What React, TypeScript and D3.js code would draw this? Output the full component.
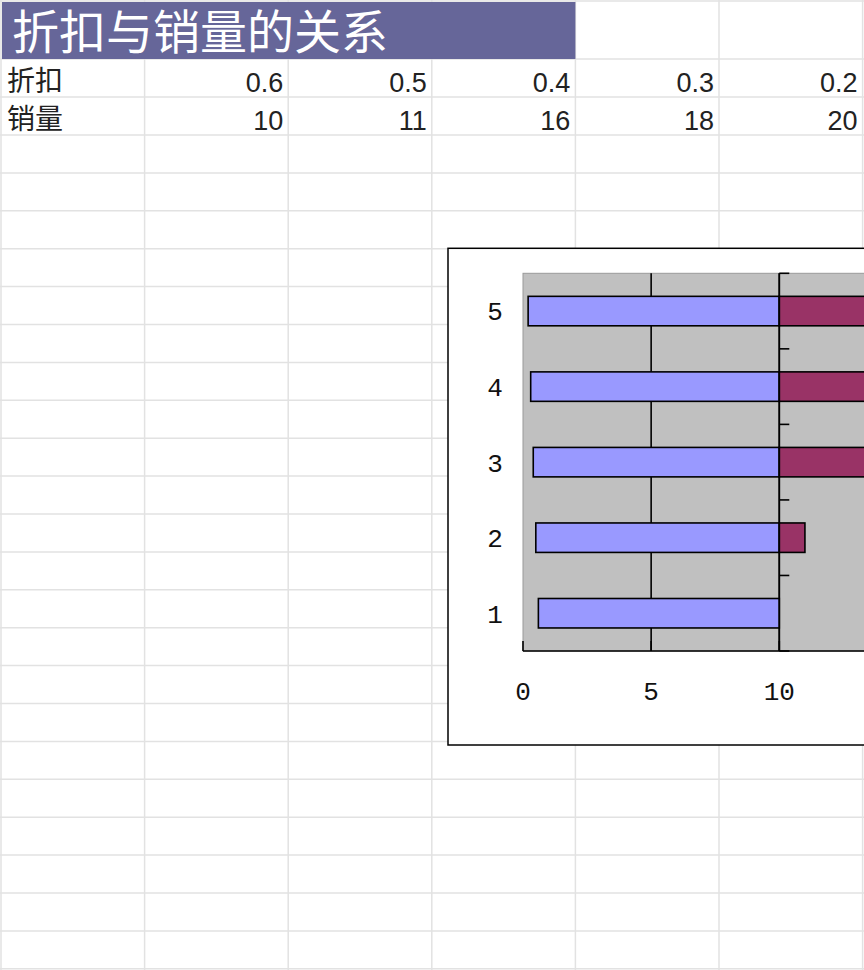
import React from "react";
import * as d3 from "d3";

// sheet data
const title = "折扣与销量的关系";
const rowLabels = ["折扣", "销量"];
const discount = [0.6, 0.5, 0.4, 0.3, 0.2];
const sales = [10, 11, 16, 18, 20];
const categories = ["1", "2", "3", "4", "5"];
const valueTicks = [0, 5, 10, 15, 20, 25];
const baseValue = 10;

const W = 864;
const H = 970;

const App: React.FC = () => {
  // spreadsheet grid
  const colX = d3.scaleLinear().domain([0, 6]).range([1, 862.6]);
  const rowY = (i: number) => (i === 0 ? 1 : i === 1 ? 59 : i === 2 ? 97 : 135 + (i - 3) * 37.9);
  const rowIdx = d3.range(0, 26).filter((i) => rowY(i) <= H);

  // chart scales
  const x = d3.scaleLinear().domain([0, 25]).range([523, 523 + 25 * 25.63]);
  const y = d3
    .scaleBand<string>()
    .domain([...categories].reverse())
    .range([273.3, 651])
    .paddingInner(0.61)
    .paddingOuter(0.305);
  const step = y.step();
  const plotTop = 273.3;
  const plotBottom = 651;
  const plotRight = x(25);

  const monoFont = "'Liberation Mono', 'DejaVu Sans Mono', monospace";
  const cjkFont = "'Noto Sans CJK SC', sans-serif";
  const numFont = "'Liberation Sans', Arial, sans-serif";

  // only labels that land inside the visible page
  const visibleTicks = valueTicks.filter((v) => x(v) + 20 < W);

  return (
    <svg
      width={W}
      height={H}
      style={{ position: "absolute", left: 0, top: 0, background: "#fff" }}
    >
      {/* sheet gridlines */}
      <g stroke="#e2e2e2" strokeWidth={1.5}>
        {d3.range(0, 7).map((i) => (
          <line key={"c" + i} x1={colX(i)} x2={colX(i)} y1={0} y2={H} />
        ))}
        {rowIdx.map((i) => (
          <line key={"r" + i} x1={0} x2={W} y1={rowY(i)} y2={rowY(i)} />
        ))}
      </g>

      {/* title cell */}
      <rect x={2} y={2} width={colX(4) - 2} height={57} fill="#666699" />
      <text x={12} y={49} fontFamily={cjkFont} fontSize={47} fill="#fff">
        {title}
      </text>

      {/* table rows */}
      {[discount, sales].map((vals, r) => (
        <g key={"row" + r}>
          <text
            x={7}
            y={rowY(r + 2) - 6.5}
            fontFamily={cjkFont}
            fontSize={28}
            fill="#222"
          >
            {rowLabels[r]}
          </text>
          {vals.map((v, i) => (
            <text
              key={i}
              x={colX(i + 2) - 5}
              y={rowY(r + 2) - 5.5}
              textAnchor="end"
              fontFamily={numFont}
              fontSize={27}
              fill="#222"
            >
              {v}
            </text>
          ))}
        </g>
      ))}

      {/* chart area */}
      <rect
        x={448}
        y={248.3}
        width={W + 100 - 448}
        height={745 - 248.3}
        fill="#fff"
        stroke="#000"
        strokeWidth={1.5}
      />
      <rect
        x={x(0)}
        y={plotTop}
        width={plotRight - x(0)}
        height={plotBottom - plotTop}
        fill="#c0c0c0"
        stroke="#9a9a9a"
        strokeWidth={1}
      />

      {/* vertical gridlines */}
      <g stroke="#000" strokeWidth={1.6}>
        {valueTicks
          .filter((v) => v > 0)
          .map((v) => (
            <line key={v} x1={x(v)} x2={x(v)} y1={plotTop} y2={plotBottom} />
          ))}
      </g>

      {/* bars drawn from the base line */}
      <g stroke="#000" strokeWidth={1.6}>
        {discount.map((v, i) => (
          <rect
            key={"d" + i}
            x={x(Math.min(v, baseValue))}
            y={y(categories[i])}
            width={Math.abs(x(baseValue) - x(v))}
            height={y.bandwidth()}
            fill="#9999ff"
          />
        ))}
        {sales.map((v, i) => (
          <rect
            key={"s" + i}
            x={x(Math.min(v, baseValue))}
            y={y(categories[i])}
            width={Math.abs(x(v) - x(baseValue))}
            height={y.bandwidth()}
            fill="#993366"
          />
        ))}
      </g>

      {/* category axis crossing at base value */}
      <g stroke="#000" strokeWidth={1.6}>
        <line x1={x(baseValue)} x2={x(baseValue)} y1={plotTop} y2={plotBottom} />
        {d3.range(0, categories.length + 1).map((k) => (
          <line
            key={k}
            x1={x(baseValue)}
            x2={x(baseValue) + 10}
            y1={plotTop + k * step}
            y2={plotTop + k * step}
          />
        ))}
      </g>
      {categories.map((c) => (
        <text
          key={c}
          x={495}
          y={(y(c) ?? 0) + y.bandwidth() / 2}
          dy="0.36em"
          textAnchor="middle"
          fontFamily={monoFont}
          fontSize={26}
          fill="#111"
        >
          {c}
        </text>
      ))}

      {/* value axis */}
      <g stroke="#000" strokeWidth={1.6}>
        <line x1={x(0)} x2={plotRight} y1={plotBottom} y2={plotBottom} />
        {valueTicks.map((v) => (
          <line key={v} x1={x(v)} x2={x(v)} y1={plotBottom} y2={plotBottom - 10} />
        ))}
      </g>
      {visibleTicks.map((v) => (
        <text
          key={v}
          x={x(v)}
          y={691}
          dy="0.36em"
          textAnchor="middle"
          fontFamily={monoFont}
          fontSize={26}
          fill="#111"
        >
          {v}
        </text>
      ))}
    </svg>
  );
};

export default App;
